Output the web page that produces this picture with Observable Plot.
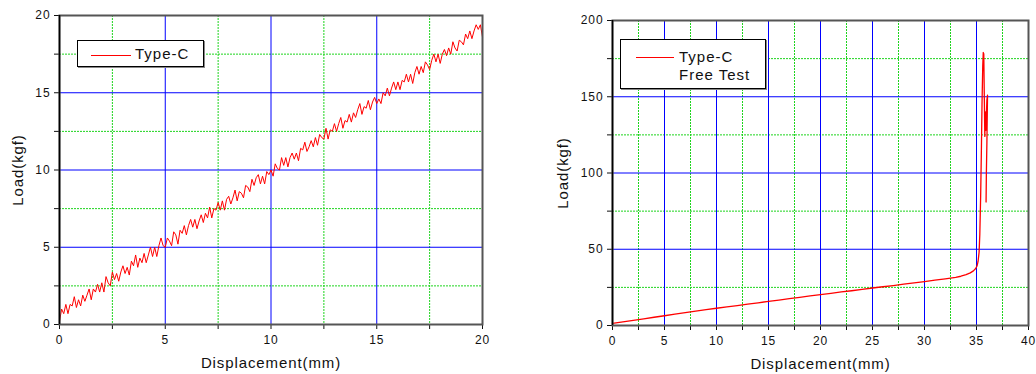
<!DOCTYPE html>
<html><head><meta charset="utf-8">
<script src="https://cdn.jsdelivr.net/npm/d3@7"></script>
<script src="https://cdn.jsdelivr.net/npm/@observablehq/plot@0.6"></script>
<style>
body{margin:0;background:#fff;font-family:"Liberation Sans",Arial,sans-serif;}
#wrap{position:relative;width:1036px;height:374px;overflow:hidden;}
.panel{position:absolute;top:0;}
.panel svg{letter-spacing:0.9px;}
.legend{position:absolute;background:#fff;border:1px solid #000;box-shadow:1px 1px 0 #888;font-size:15px;letter-spacing:1px;color:#111;box-sizing:border-box;}
.legend .ln{position:absolute;height:0;border-top:1px solid #ff0000;}
.legend .tx{position:absolute;line-height:18px;white-space:nowrap;}
</style></head>
<body><div id="wrap">
<div id="p1" class="panel" style="left:0"></div>
<div id="p2" class="panel" style="left:518px"></div>
<div class="legend" style="left:77px;top:40px;width:127px;height:27px;">
  <div class="ln" style="left:13px;width:40px;top:14px"></div>
  <div class="tx" style="left:57px;top:4px">Type-C</div>
</div>
<div class="legend" style="left:620px;top:39px;width:146px;height:50px;">
  <div class="ln" style="left:15px;width:38px;top:17px"></div>
  <div class="tx" style="left:58px;top:8px">Type-C</div>
  <div class="tx" style="left:58px;top:26px">Free Test</div>
</div>
</div>
<script>
// Left chart: Type-C (0–20 mm)
const dispA = [
0,0.1,0.2,0.3,0.4,0.5,0.6,0.7,0.8,0.9,
1.0,1.1,1.2,1.3,1.4,1.5,1.6,1.7,1.8,1.9,
2.0,2.1,2.2,2.3,2.4,2.5,2.6,2.7,2.8,2.9,
3.0,3.1,3.2,3.3,3.4,3.5,3.6,3.7,3.8,3.9,
4.0,4.1,4.2,4.3,4.4,4.5,4.6,4.7,4.8,4.9,
5.0,5.1,5.2,5.3,5.4,5.5,5.6,5.7,5.8,5.9,
6.0,6.1,6.2,6.3,6.4,6.5,6.6,6.7,6.8,6.9,
7.0,7.1,7.2,7.3,7.4,7.5,7.6,7.7,7.8,7.9,
8.0,8.1,8.2,8.3,8.4,8.5,8.6,8.7,8.8,8.9,
9.0,9.1,9.2,9.3,9.4,9.5,9.6,9.7,9.8,9.9,
10.0,10.1,10.2,10.3,10.4,10.5,10.6,10.7,10.8,10.9,
11.0,11.1,11.2,11.3,11.4,11.5,11.6,11.7,11.8,11.9,
12.0,12.1,12.2,12.3,12.4,12.5,12.6,12.7,12.8,12.9,
13.0,13.1,13.2,13.3,13.4,13.5,13.6,13.7,13.8,13.9,
14.0,14.1,14.2,14.3,14.4,14.5,14.6,14.7,14.8,14.9,
15.0,15.1,15.2,15.3,15.4,15.5,15.6,15.7,15.8,15.9,
16.0,16.1,16.2,16.3,16.4,16.5,16.6,16.7,16.8,16.9,
17.0,17.1,17.2,17.3,17.4,17.5,17.6,17.7,17.8,17.9,
18.0,18.1,18.2,18.3,18.4,18.5,18.6,18.7,18.8,18.9,
19.0,19.1,19.2,19.3,19.4,19.5,19.6,19.7,19.8,19.9,20.0];
const loadA = [
0.2,1.0,0.7,1.3,0.7,1.3,1.2,1.8,1.1,1.6,
1.2,1.9,1.5,1.9,2.3,1.6,2.3,2.1,2.6,2.1,
2.7,2.1,3.1,2.7,2.5,3.4,2.9,3.3,2.8,3.4,
3.8,3.3,3.7,3.2,4.1,3.8,4.5,3.7,4.3,4.0,
4.6,4.0,4.5,5.0,4.4,5.0,4.4,5.1,5.6,5.1,
5.0,5.6,5.4,5.1,6.0,5.8,5.2,6.1,5.9,6.4,
5.8,6.4,6.8,6.3,6.8,6.2,6.7,7.1,6.6,7.2,
6.9,7.6,6.9,7.5,7.4,7.9,7.4,8.0,7.4,8.1,
8.3,7.8,8.2,8.7,8.0,8.6,8.5,8.2,9.0,8.9,
8.6,9.4,9.0,9.5,9.7,9.1,9.6,9.1,9.9,9.7,
10.0,9.6,10.4,10.1,10.0,10.8,10.3,10.8,10.2,10.8,
11.1,10.7,11.1,10.6,11.4,11.3,11.8,11.2,11.5,11.9,
11.5,12.1,11.6,12.3,12.1,12.0,12.7,12.0,12.6,12.5,
13.0,12.5,13.0,13.4,12.7,13.2,13.1,13.6,13.1,13.7,
13.4,13.9,14.3,13.6,14.1,14.0,14.5,13.9,14.4,14.7,
14.3,14.6,14.3,15.0,14.8,15.3,14.8,15.3,15.7,15.2,
15.7,15.2,15.8,15.7,16.2,15.7,16.2,15.6,16.3,16.7,
16.2,16.7,16.3,17.0,16.8,16.5,17.1,17.5,17.0,17.5,
16.9,17.5,17.8,17.4,17.9,17.5,18.3,17.9,17.7,18.4,
18.3,18.1,18.8,18.5,19.0,18.5,19.0,19.4,19.1,19.4,18.6];
// Right chart: Type-C Free Test (0–40 mm)
const dispB = [0,1,2,3,4,5,6,7,8,9,10,11,12,13,14,15,16,17,18,19,20,21,22,23,24,25,26,27,28,29,30,31,32,33,33.5,34,34.4,34.7,34.9,35.05,35.15,35.25,35.32,35.4,35.47,35.53,35.6,35.65,35.7,35.75,35.8,35.85,35.9,36.0,36.06,36.0,35.95,35.92];
const loadB = [1.4,2.4,3.4,4.4,5.4,6.4,7.4,8.4,9.4,10.4,11.3,12.2,13.1,14.0,14.9,15.8,16.7,17.6,18.5,19.4,20.3,21.1,22.0,22.8,23.7,24.6,25.4,26.2,27.1,27.9,28.8,29.7,30.6,31.6,32.3,33.3,34.5,35.8,37.2,39,42,48,60,85,115,145,170,179,178,150,124,140,128,148,151,120,100,81];

const xTicksA = [0,5,10,15,20], xMinorA = [2.5,7.5,12.5,17.5];
const yTicksA = [0,5,10,15,20], yMinorA = [2.5,7.5,12.5,17.5];
const xTicksB = [0,5,10,15,20,25,30,35,40], xMinorB = [2.5,7.5,12.5,17.5,22.5,27.5,32.5,37.5];
const yTicksB = [0,50,100,150,200], yMinorB = [25,75,125,175];

function panel(o) {
  const data = o.xs.map((x, i) => ({x, y: o.ys[i]}));
  const xMax = o.xTicks[o.xTicks.length - 1], yMax = o.yTicks[o.yTicks.length - 1];
  const green = {stroke: "#1ed41e", strokeOpacity: 1, strokeDasharray: "2,1", strokeWidth: 1};
  const blue = {stroke: "#0000ff", strokeOpacity: 1, strokeWidth: 1};
  return Plot.plot({
    width: 518, height: 374,
    marginLeft: o.ml, marginRight: o.mr, marginTop: o.mt, marginBottom: o.mb,
    x: {domain: [0, xMax]}, y: {domain: [0, yMax]},
    style: {fontFamily: "Liberation Sans, Arial, sans-serif", fontSize: "12px", color: "#111", background: "#fff"},
    marks: [
      Plot.gridX(o.xMinor, green),
      Plot.gridY(o.yMinor, green),
      Plot.gridX(o.xTicks.filter(v => v > 0 && v < xMax), blue),
      Plot.gridY(o.yTicks.filter(v => v > 0 && v < yMax), blue),
      Plot.axisX(o.xTicks, {tickSize: 5, tickPadding: 6, label: null}),
      Plot.axisX(o.xMinor, {tickSize: 5, tickFormat: () => "", label: null}),
      Plot.axisY(o.yTicks, {tickSize: 5, tickPadding: 4, label: null}),
      Plot.axisY(o.yMinor, {tickSize: 5, tickFormat: () => "", label: null}),
      Plot.line(data, {x: "x", y: "y", stroke: "#ff0000", strokeWidth: o.lw}),
      Plot.frame({stroke: "#555", strokeWidth: 2}),
      Plot.ruleX([0], {stroke: "#000", strokeWidth: 1.5}),
      Plot.text(["Displacement(mm)"], {frameAnchor: "bottom", dy: 39, lineAnchor: "middle", textAnchor: "middle", fontSize: 15}),
      Plot.text(["Load(kgf)"], {frameAnchor: "left", dx: o.ylx, rotate: -90, textAnchor: "middle", lineAnchor: "middle", fontSize: 15})
    ]
  });
}

document.getElementById("p1").append(panel({xs: dispA, ys: loadA, xTicks: xTicksA, xMinor: xMinorA, yTicks: yTicksA, yMinor: yMinorA, ml: 59, mr: 36, mt: 15, mb: 50, ylx: -41, lw: 1}));
document.getElementById("p2").append(panel({xs: dispB, ys: loadB, xTicks: xTicksB, xMinor: xMinorB, yTicks: yTicksB, yMinor: yMinorB, ml: 94, mr: 8, mt: 20, mb: 49, ylx: -49, lw: 1.3}));
</script>
</body></html>
